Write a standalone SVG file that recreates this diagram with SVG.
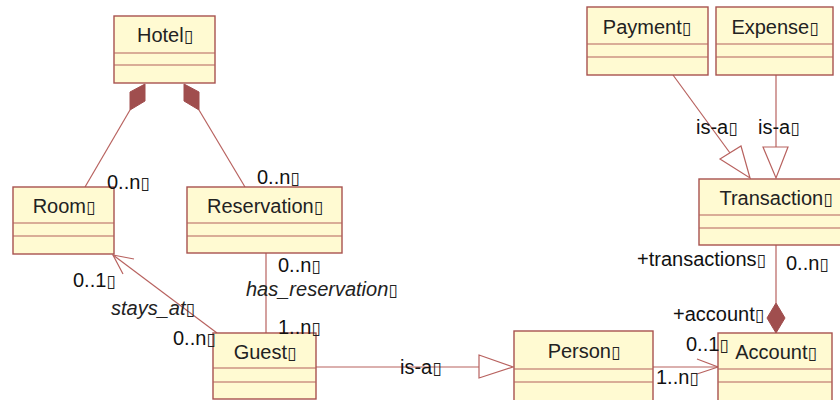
<svg xmlns="http://www.w3.org/2000/svg" width="840" height="400" viewBox="0 0 840 400">
  <style>
    .box { fill: #fffad2; stroke: #a8524f; stroke-width: 1.4; }
    .div { stroke: #b4605c; stroke-width: 1.2; fill: none; }
    .name { font-family: "Liberation Sans", Arial, sans-serif; font-size: 20px; fill: #222; text-anchor: middle; }
    .lbl { font-family: "Liberation Sans", Arial, sans-serif; font-size: 20px; fill: #111; }
    .it { font-style: italic; fill: #222; }
    .line { stroke: #b8625f; stroke-width: 1.2; fill: none; }
    .hollow { fill: #ffffff; stroke: #b8625f; stroke-width: 1.2; }
    .solid { fill: #a04e4e; stroke: #a04e4e; stroke-width: 1; }
    .t { font-family: "DejaVu Sans", sans-serif; font-size: 17px; font-style: normal; fill: #222; }
  </style>

  <!-- associations, aggregations and generalisations -->
  <g id="connectors">
    <!-- Hotel composition to Room and Reservation -->
    <line class="line" x1="130" y1="110" x2="85" y2="187"/>
    <polygon class="solid" points="145,84 130,92 130,110 145,101"/>
    <line class="line" x1="199" y1="110" x2="245" y2="187"/>
    <polygon class="solid" points="184,84 184,101 199,110 199,92"/>

    <!-- Guest stays_at Room -->
    <line class="line" x1="217" y1="333" x2="113" y2="255"/>
    <polyline class="line" points="134,259 113,255 123,274"/>

    <!-- Guest has_reservation Reservation -->
    <line class="line" x1="266" y1="253" x2="266" y2="333"/>

    <!-- Guest is-a Person -->
    <line class="line" x1="316" y1="367" x2="479" y2="367"/>
    <polygon class="hollow" points="479,355 513,367 479,378"/>

    <!-- Person to Account -->
    <line class="line" x1="653" y1="367" x2="718" y2="367"/>
    <polyline class="line" points="697,359 718,367 697,374"/>

    <!-- Payment is-a Transaction -->
    <line class="line" x1="673" y1="75" x2="730" y2="153"/>
    <polygon class="hollow" points="720,159 741,146 750,178"/>

    <!-- Expense is-a Transaction -->
    <line class="line" x1="776" y1="75" x2="776" y2="147"/>
    <polygon class="hollow" points="763,147 788,147 776,178"/>

    <!-- Account composition of Transaction -->
    <line class="line" x1="776" y1="245" x2="776" y2="303"/>
    <polygon class="solid" points="776,303 785,318 776,333 767,318"/>
  </g>

  <!-- classes -->
  <g id="Hotel">
    <rect class="box" x="114" y="16" width="101" height="67"/>
    <path class="div" d="M114 53H215M114 65H215"/>
    <text class="name" x="165" y="42">Hotel<tspan class="t">▯</tspan></text>
  </g>
  <g id="Room">
    <rect class="box" x="13" y="187" width="101" height="67"/>
    <path class="div" d="M13 223H114M13 236H114"/>
    <text class="name" x="64" y="213">Room<tspan class="t">▯</tspan></text>
  </g>
  <g id="Reservation">
    <rect class="box" x="187" y="187" width="155" height="66"/>
    <path class="div" d="M187 223H342M187 236H342"/>
    <text class="name" x="265" y="213">Reservation<tspan class="t">▯</tspan></text>
  </g>
  <g id="Guest">
    <rect class="box" x="213" y="333" width="103" height="66"/>
    <path class="div" d="M213 368H316M213 382H316"/>
    <text class="name" x="265" y="359">Guest<tspan class="t">▯</tspan></text>
  </g>
  <g id="Person">
    <rect class="box" x="514" y="331" width="139" height="75"/>
    <path class="div" d="M514 369H653M514 382H653"/>
    <text class="name" x="584" y="358">Person<tspan class="t">▯</tspan></text>
  </g>
  <g id="Account">
    <rect class="box" x="718" y="333" width="114" height="75"/>
    <path class="div" d="M718 369H832M718 382H832"/>
    <text class="name" x="776" y="359">Account<tspan class="t">▯</tspan></text>
  </g>
  <g id="Transaction">
    <rect class="box" x="699" y="179" width="150" height="66"/>
    <path class="div" d="M699 215H849M699 228H849"/>
    <text class="name" x="776" y="205">Transaction<tspan class="t">▯</tspan></text>
  </g>
  <g id="Payment">
    <rect class="box" x="587" y="7" width="121" height="68"/>
    <path class="div" d="M587 44H708M587 57H708"/>
    <text class="name" x="647" y="34">Payment<tspan class="t">▯</tspan></text>
  </g>
  <g id="Expense">
    <rect class="box" x="716" y="7" width="117" height="68"/>
    <path class="div" d="M716 44H833M716 57H833"/>
    <text class="name" x="775" y="34">Expense<tspan class="t">▯</tspan></text>
  </g>

  <!-- connector labels, drawn over the class boxes -->
  <g id="labels">
    <text class="lbl" x="107" y="189">0..n<tspan class="t">▯</tspan></text>
    <text class="lbl" x="257" y="184">0..n<tspan class="t">▯</tspan></text>
    <text class="lbl" x="73" y="287">0..1<tspan class="t">▯</tspan></text>
    <text class="lbl it" x="111" y="315">stays_at<tspan class="t">▯</tspan></text>
    <text class="lbl" x="173" y="345">0..n<tspan class="t">▯</tspan></text>
    <text class="lbl" x="278" y="272">0..n<tspan class="t">▯</tspan></text>
    <text class="lbl it" x="246" y="296">has_reservation<tspan class="t">▯</tspan></text>
    <text class="lbl" x="278" y="334">1..n<tspan class="t">▯</tspan></text>
    <text class="lbl" x="400" y="374">is-a<tspan class="t">▯</tspan></text>
    <text class="lbl" x="696" y="134">is-a<tspan class="t">▯</tspan></text>
    <text class="lbl" x="758" y="134">is-a<tspan class="t">▯</tspan></text>
    <text class="lbl" x="637" y="266">+transactions<tspan class="t">▯</tspan></text>
    <text class="lbl" x="786" y="270">0..n<tspan class="t">▯</tspan></text>
    <text class="lbl" x="673" y="321">+account<tspan class="t">▯</tspan></text>
    <text class="lbl" x="686" y="351">0..1<tspan class="t">▯</tspan></text>
    <text class="lbl" x="656" y="384">1..n<tspan class="t">▯</tspan></text>
  </g>
</svg>
